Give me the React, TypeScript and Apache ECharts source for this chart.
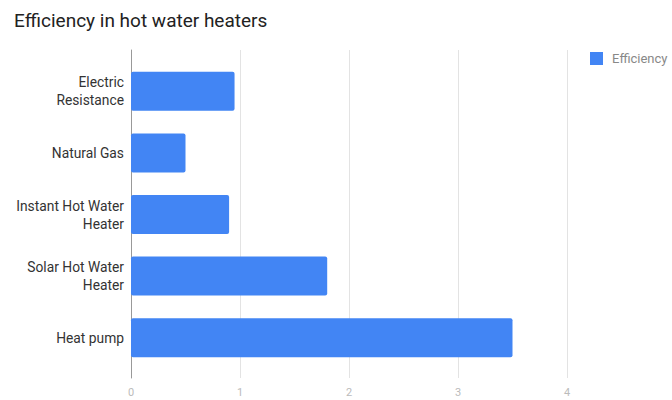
import React, { useEffect, useRef } from "react";
import * as echarts from "echarts";

const categories = [
  "Electric\nResistance",
  "Natural Gas",
  "Instant Hot Water\nHeater",
  "Solar Hot Water\nHeater",
  "Heat pump",
];
const efficiency = [0.95, 0.5, 0.9, 1.8, 3.5];
const xTicks = { min: 0, max: 4, interval: 1 };
const seriesName = "Efficiency";
const titleText = "Efficiency in hot water heaters";

export default function App() {
  const ref = useRef<HTMLDivElement>(null);
  useEffect(() => {
    document.body.style.margin = "0";
    const chart = echarts.init(ref.current!, null, { renderer: "svg" });
    const font = "Roboto, 'Noto Sans', sans-serif";
    chart.setOption({
      animation: false,
      textStyle: { fontFamily: font },
      title: {
        text: titleText,
        left: 14,
        top: 11,
        padding: 0,
        textStyle: { fontSize: 19, fontWeight: "normal", color: "#222", fontFamily: font },
      },
      legend: {
        data: [seriesName],
        left: 590,
        top: 52,
        padding: 0,
        icon: "rect",
        itemWidth: 13,
        itemHeight: 13,
        textStyle: { color: "#888", fontSize: 13, padding: [0, 0, 0, 4], fontFamily: font },
      },
      grid: [
        { left: 131, right: 105, top: 50, bottom: 22 },
        { left: 131, right: 105, top: 60.5, bottom: 31.5 },
      ],
      xAxis: [
        {
          gridIndex: 0,
          type: "value",
          min: xTicks.min,
          max: xTicks.max,
          interval: xTicks.interval,
          axisLine: { show: false },
          axisTick: { show: false },
          splitLine: { show: true, lineStyle: { color: "#e3e3e3", width: 1 } },
          axisLabel: { color: "#bbb", fontSize: 11, margin: 9, fontFamily: font },
        },
        {
          gridIndex: 1,
          type: "value",
          min: xTicks.min,
          max: xTicks.max,
          show: false,
          splitLine: { show: false },
        },
      ],
      yAxis: [
        {
          gridIndex: 0,
          type: "value",
          min: 0,
          max: 1,
          axisLine: { show: true, lineStyle: { color: "#999", width: 1 } },
          axisTick: { show: false },
          axisLabel: { show: false },
          splitLine: { show: false },
        },
        {
          gridIndex: 1,
          type: "category",
          data: categories,
          inverse: true,
          axisLine: { show: false },
          axisTick: { show: false },
          splitLine: { show: false },
          axisLabel: { color: "#333", fontSize: 13.8, lineHeight: 18, margin: 7, fontFamily: font },
        },
      ],
      series: [
        {
          name: seriesName,
          type: "bar",
          xAxisIndex: 1,
          yAxisIndex: 1,
          data: efficiency,
          barWidth: 39,
          itemStyle: { color: "#4285F4", borderRadius: 2 },
        },
      ],
    });
    return () => chart.dispose();
  }, []);
  return <div ref={ref} style={{ width: 672, height: 400 }} />;
}
